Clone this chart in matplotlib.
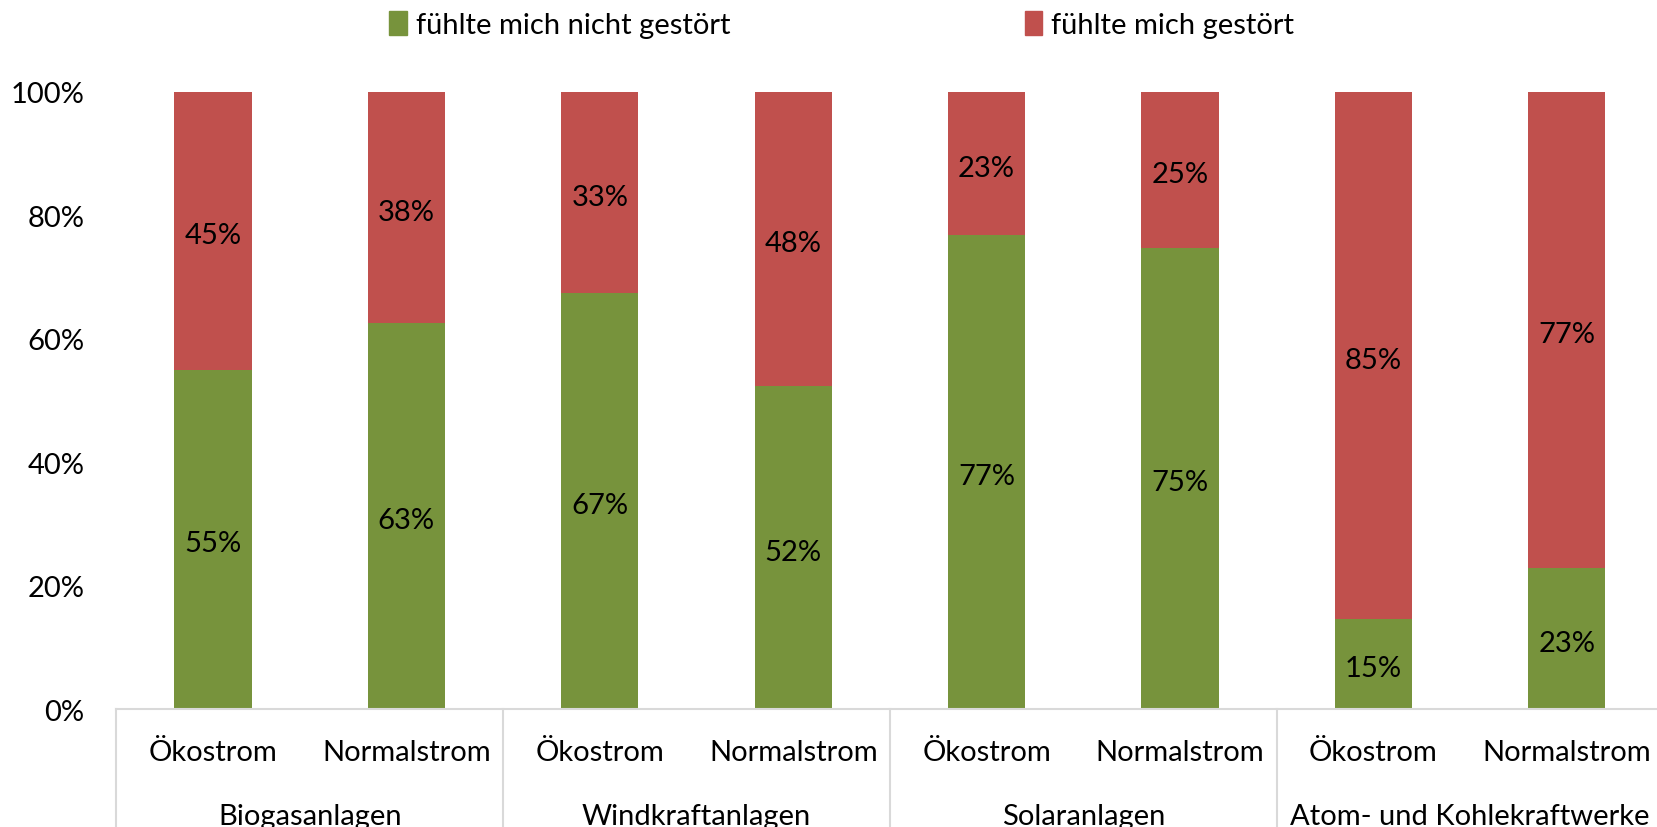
import matplotlib
matplotlib.use("Agg")
import matplotlib.pyplot as plt
from matplotlib.patches import Patch
import matplotlib.transforms as mtrans
import numpy as np

groups = ["Biogasanlagen", "Windkraftanlagen", "Solaranlagen", "Atom- und Kohlekraftwerke"]
subcats = ["Ökostrom", "Normalstrom"]
nicht_gestoert = np.array([55.0, 62.5, 67.4, 52.3, 76.8, 74.8, 14.6, 22.9])
gestoert = 100 - nicht_gestoert
labels_nicht = ["55%", "63%", "67%", "52%", "77%", "75%", "15%", "23%"]
labels_gest = ["45%", "38%", "33%", "48%", "23%", "25%", "85%", "77%"]
yticks = [0, 20, 40, 60, 80, 100]
legend_labels = ["fühlte mich nicht gestört", "fühlte mich gestört"]

GREEN = "#77933C"
RED = "#C0504D"
FONT = ["Lato", "DejaVu Sans"]
plt.rcParams["font.family"] = FONT
FS = 21

fig = plt.figure(figsize=(16.57, 8.28), dpi=100)
ax = fig.add_axes([0.0702, 0.1423, 0.9337, 0.7454])

x = np.arange(len(nicht_gestoert))
ax.bar(x, nicht_gestoert, width=0.4, color=GREEN, zorder=2)
ax.bar(x, gestoert, width=0.4, bottom=nicht_gestoert, color=RED, zorder=2)

shift = mtrans.offset_copy(ax.transData, fig=fig, x=0, y=-4, units="dots")
for i in range(len(x)):
    ax.text(x[i], nicht_gestoert[i] / 2, labels_nicht[i], ha="center", va="center",
            fontsize=FS, transform=shift)
    ax.text(x[i], nicht_gestoert[i] + gestoert[i] / 2, labels_gest[i], ha="center", va="center",
            fontsize=FS, transform=shift)

ax.set_xlim(-0.5, len(x) - 0.5)
ax.set_ylim(0, 100)
ax.set_yticks(yticks)
ax.set_yticklabels([f"{v}%" for v in yticks], fontsize=FS)
ax.tick_params(axis="y", length=0, pad=23)
ax.set_xticks([])
for s in ["top", "right", "left"]:
    ax.spines[s].set_visible(False)
ax.spines["bottom"].set_color("#D9D9D9")
ax.spines["bottom"].set_linewidth(1.5)

trans = ax.get_xaxis_transform()
for b in [-0.5, 1.5, 3.5, 5.5, 7.5]:
    ax.plot([b, b], [0, -0.25], transform=trans, color="#D9D9D9", lw=1.5, clip_on=False)

for i in range(len(x)):
    ax.text(x[i], -0.0697, subcats[i % 2], transform=trans, ha="center", va="center", fontsize=FS)
for g, name in enumerate(groups):
    ax.text(2 * g + 0.5, -0.173, name, transform=trans, ha="center", va="center", fontsize=FS)

handles = [Patch(color=GREEN), Patch(color=RED)]
fig.legend(handles, legend_labels, loc="center", bbox_to_anchor=(0.508, 0.969), ncol=2,
           frameon=False, fontsize=FS, handlelength=0.6, handleheight=0.9, handletextpad=0.3,
           columnspacing=10.1)

fig.savefig("out.png", dpi=100)
